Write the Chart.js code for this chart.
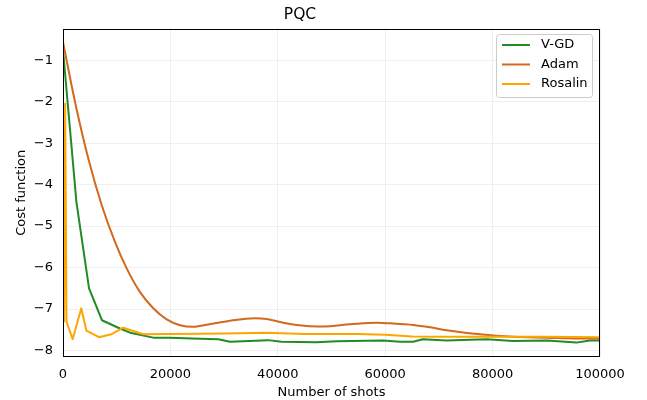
<!DOCTYPE html>
<html>
<head>
<meta charset="utf-8">
<script src="https://cdn.jsdelivr.net/npm/chart.js@4.4.1/dist/chart.umd.min.js"></script>
<style>
  html, body { margin: 0; padding: 0; background: #ffffff; }
  #wrap { width: 647px; height: 400px; }
</style>
</head>
<body>
<div id="wrap"><canvas id="c" width="647" height="400"></canvas></div>
<script>
// ---- data ----
const seriesNames = ['V-GD', 'Adam', 'Rosalin'];
const seriesColors = ['#228b22', '#d2691e', '#ffa500'];

const vgdShots = [0, 2500, 4850, 7250, 10600, 12500, 16800, 19900, 24000, 28900, 31100, 38200, 40700, 47200, 51000, 59600, 62700, 65200, 67000, 71400, 78900, 83800, 90100, 95600, 98100, 100000];
const vgdCost  = [-0.75, -4.42, -6.5, -7.27, -7.47, -7.57, -7.69, -7.69, -7.71, -7.73, -7.79, -7.75, -7.79, -7.8, -7.78, -7.76, -7.79, -7.79, -7.73, -7.76, -7.73, -7.77, -7.76, -7.81, -7.76, -7.76];

const adamShots = [0, 2230, 4710, 7200, 9680, 11860, 14280, 16810, 19310, 21790, 24200, 26760, 31100, 35750, 37930, 41020, 45380, 48470, 53440, 58410, 60890, 65230, 68340, 71450, 77650, 83850, 90070, 96270, 100000];
const adamCost  = [-0.56, -2.0, -3.37, -4.49, -5.38, -6.02, -6.58, -6.98, -7.25, -7.39, -7.43, -7.38, -7.28, -7.22, -7.24, -7.33, -7.41, -7.42, -7.37, -7.33, -7.345, -7.385, -7.44, -7.51, -7.61, -7.67, -7.69, -7.71, -7.71];

const rosShots = [0, 200, 400, 650, 1800, 3400, 4350, 6700, 9000, 11200, 14950, 20000, 30000, 38000, 45000, 55000, 60000, 65000, 70000, 80000, 90000, 100000];
const rosCost  = [-4.1, -7.3, -2.05, -7.3, -7.73, -6.98, -7.52, -7.68, -7.61, -7.45, -7.61, -7.6, -7.59, -7.57, -7.6, -7.6, -7.62, -7.66, -7.67, -7.67, -7.67, -7.68];

const xTicks = [0, 20000, 40000, 60000, 80000, 100000];
const yTicks = [-8, -7, -6, -5, -4, -3, -2, -1];

const FONT = "'DejaVu Sans', 'Liberation Sans', sans-serif";

function pts(xs, ys) { return xs.map((x, i) => ({ x: x, y: ys[i] })); }

const frameAndLegend = {
  id: 'frameAndLegend',
  afterDatasetsDraw(chart) {
    const ctx = chart.ctx;
    const a = chart.chartArea;
    ctx.save();
    // axes frame
    ctx.strokeStyle = '#000';
    ctx.lineWidth = 1;
    ctx.strokeRect(Math.round(a.left) + 0.5, Math.round(a.top) + 0.5,
                   Math.round(a.right - a.left) - 1, Math.round(a.bottom - a.top) - 1);
    // legend box
    const bx = 496.5, by = 34.5, bw = 96, bh = 63, r = 3;
    ctx.beginPath();
    ctx.moveTo(bx + r, by);
    ctx.lineTo(bx + bw - r, by);
    ctx.quadraticCurveTo(bx + bw, by, bx + bw, by + r);
    ctx.lineTo(bx + bw, by + bh - r);
    ctx.quadraticCurveTo(bx + bw, by + bh, bx + bw - r, by + bh);
    ctx.lineTo(bx + r, by + bh);
    ctx.quadraticCurveTo(bx, by + bh, bx, by + bh - r);
    ctx.lineTo(bx, by + r);
    ctx.quadraticCurveTo(bx, by, bx + r, by);
    ctx.closePath();
    ctx.fillStyle = 'rgba(255,255,255,0.8)';
    ctx.fill();
    ctx.strokeStyle = '#cccccc';
    ctx.lineWidth = 1;
    ctx.stroke();
    const rows = [45, 64.5, 84];
    ctx.font = '13px ' + FONT;
    ctx.textBaseline = 'middle';
    ctx.textAlign = 'left';
    seriesNames.forEach((name, i) => {
      ctx.strokeStyle = seriesColors[i];
      ctx.lineWidth = 2;
      ctx.beginPath();
      ctx.moveTo(502, rows[i]);
      ctx.lineTo(530, rows[i]);
      ctx.stroke();
      ctx.fillStyle = '#000';
      ctx.fillText(name, 541, rows[i]);
    });
    ctx.restore();
  }
};

const fmt = v => (v < 0 ? '\u2212' + Math.abs(v) : String(v));

new Chart(document.getElementById('c'), {
  type: 'line',
  data: {
    datasets: [
      { label: seriesNames[0], data: pts(vgdShots, vgdCost), borderColor: seriesColors[0], order: 3 },
      { label: seriesNames[1], data: pts(adamShots, adamCost), borderColor: seriesColors[1], order: 2, cubicInterpolationMode: 'monotone' },
      { label: seriesNames[2], data: pts(rosShots, rosCost), borderColor: seriesColors[2], order: 1 }
    ].map(d => Object.assign({ borderWidth: 2, pointRadius: 0, fill: false, borderJoinStyle: 'round', tension: 0 }, d))
  },
  options: {
    responsive: false,
    animation: false,
    devicePixelRatio: 1,
    layout: { padding: { left: 0, right: 47, top: 0, bottom: 0 } },
    plugins: {
      legend: { display: false },
      tooltip: { enabled: false },
      title: {
        display: true, text: 'PQC', color: '#000',
        font: { family: FONT, size: 15.5, weight: 'normal' },
        padding: { top: 6, bottom: 4 }
      }
    },
    scales: {
      x: {
        type: 'linear', min: 0, max: 100000,
        afterBuildTicks: s => { s.ticks = xTicks.map(v => ({ value: v })); },
        afterFit: s => { s.height = 43; },
        grid: { color: '#ececec', lineWidth: 0.8, drawTicks: false },
        border: { display: false },
        ticks: { padding: 10, color: '#000', font: { family: FONT, size: 13 }, callback: v => fmt(v), maxRotation: 0 },
        title: { display: true, text: 'Number of shots', color: '#000', font: { family: FONT, size: 13 }, padding: { top: 0, bottom: 0 } }
      },
      y: {
        type: 'linear', min: -8.157, max: -0.236,
        afterBuildTicks: s => { s.ticks = yTicks.map(v => ({ value: v })); },
        afterFit: s => { s.width = 63; },
        grid: { color: '#ececec', lineWidth: 0.8, drawTicks: false },
        border: { display: false },
        ticks: { padding: 10, color: '#000', font: { family: FONT, size: 13 }, callback: v => fmt(v) },
        title: { display: true, text: 'Cost function', color: '#000', font: { family: FONT, size: 13 }, padding: { top: 14, bottom: 0 } }
      }
    }
  },
  plugins: [frameAndLegend]
});
</script>
</body>
</html>
